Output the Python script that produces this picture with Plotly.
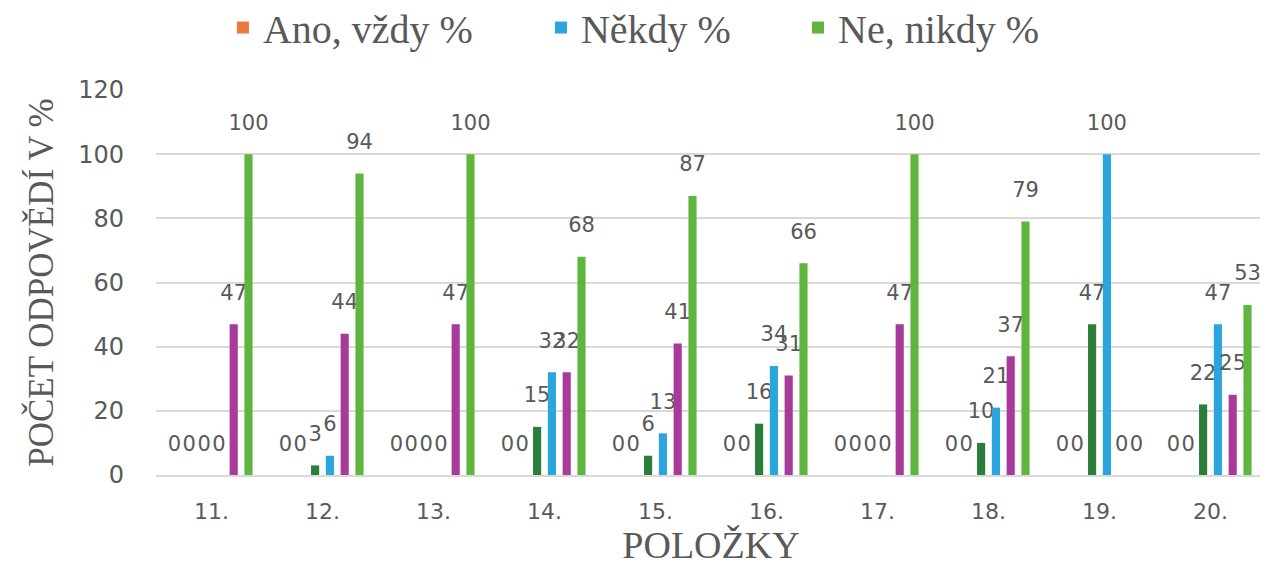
import plotly.graph_objects as go

polozky = ["11.", "12.", "13.", "14.", "15.", "16.", "17.", "18.", "19.", "20."]

ano_pocet = [0, 0, 0, 0, 0, 0, 0, 0, 0, 0]
ano_pct = [0, 0, 0, 0, 0, 0, 0, 0, 0, 0]
nekdy_pocet = [0, 3, 0, 15, 6, 16, 0, 10, 47, 22]
nekdy_pct = [0, 6, 0, 32, 13, 34, 0, 21, 100, 47]
ne_pocet = [47, 44, 47, 32, 41, 31, 47, 37, 0, 25]
ne_pct = [100, 94, 100, 68, 87, 66, 100, 79, 0, 53]

series = [
    ("Ano, vždy", ano_pocet, "#c55a11", None),
    ("Ano, vždy %", ano_pct, "#ec7a3c", "legend"),
    ("Někdy", nekdy_pocet, "#2b7d3a", None),
    ("Někdy %", nekdy_pct, "#2ba5de", "legend2"),
    ("Ne, nikdy", ne_pocet, "#a83a9c", None),
    ("Ne, nikdy %", ne_pct, "#5fb53d", "legend3"),
]

GREY = "#595959"
fig = go.Figure()
for name, vals, color, leg in series:
    fig.add_trace(go.Bar(
        x=polozky, y=vals, name=name, showlegend=leg is not None,
        legend=leg or "legend",
        marker=dict(color=color, line=dict(width=0)),
        text=[f"{v}<br><sup>&nbsp;</sup>" for v in vals],
        textposition="outside", textangle=0, constraintext="none",
        cliponaxis=False,
        textfont=dict(family="DejaVu Sans", size=21, color=GREY),
        hoverinfo="x+y+name",
    ))

legend_style = dict(
    orientation="h", xref="container", yref="container",
    xanchor="left", y=0.965, yanchor="middle", itemwidth=30,
    font=dict(family="Liberation Serif", size=40, color=GREY),
)

# The page body has an 8px margin, so the figure is 8px smaller than the window.
fig.update_layout(
    width=1260, height=558,
    barmode="group", bargap=0.2, bargroupgap=0.45,
    plot_bgcolor="white", paper_bgcolor="white",
    margin=dict(l=148, r=2, t=82, b=91),
    font=dict(family="DejaVu Sans", color=GREY),
    legend=dict(x=0.1706, **legend_style),
    legend2=dict(x=0.423, **legend_style),
    legend3=dict(x=0.627, **legend_style),
    xaxis=dict(
        showgrid=False, showline=True, linecolor="#d9d9d9", linewidth=2,
        ticks="", tickfont=dict(family="DejaVu Sans", size=22, color=GREY),
        ticklabelstandoff=16, automargin=False,
        title=dict(text="POLOŽKY", font=dict(family="Liberation Serif", size=38, color=GREY), standoff=6),
    ),
    yaxis=dict(
        range=[0, 120], dtick=20, showgrid=True, gridcolor="#d9d9d9", gridwidth=1.5,
        zeroline=False, showline=False, ticks="",
        tickfont=dict(family="DejaVu Sans", size=24, color=GREY),
        ticklabelstandoff=31, automargin=False,
        title=dict(text="POČET ODPOVĚDÍ V %", font=dict(family="Liberation Serif", size=35, color=GREY), standoff=13),
    ),
)

fig.write_html("out.html")
